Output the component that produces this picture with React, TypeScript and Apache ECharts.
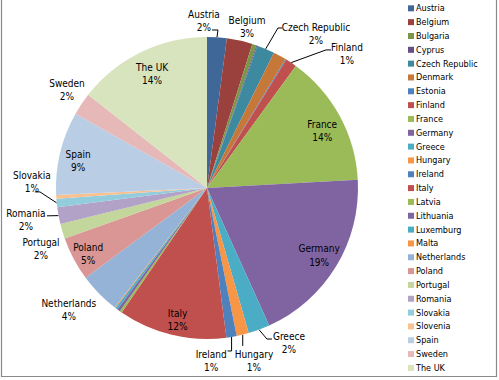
import React, { useEffect, useRef } from "react";
import * as echarts from "echarts";

const countries = [
  "Austria", "Belgium", "Bulgaria", "Cyprus", "Czech Republic", "Denmark", "Estonia",
  "Finland", "France", "Germany", "Greece", "Hungary", "Ireland", "Italy", "Latvia",
  "Lithuania", "Luxemburg", "Malta", "Netherlands", "Poland", "Portugal", "Romania",
  "Slovakia", "Slovenia", "Spain", "Sweden", "The UK",
];
const shares = [
  2.1, 2.75, 0.45, 0.1, 1.9, 1.4, 0.1,
  1.2, 14.1, 19.1, 2.3, 1.3, 1.1, 11.6, 0.25,
  0.3, 0.25, 0.1, 4.4, 4.7, 1.6, 1.8,
  0.9, 0.4, 8.9, 2.4, 14.4,
];
const colors = [
  "#3F6797", "#9A403D", "#7C9647", "#664F82", "#3C89A0", "#C67838", "#4F81BD",
  "#C0504D", "#9BBB59", "#8064A2", "#4BACC6", "#F79646", "#4F81BD", "#C0504D", "#9BBB59",
  "#8064A2", "#4BACC6", "#F79646", "#95B3D7", "#D99694", "#C3D69B", "#B3A2C7",
  "#93CDDD", "#FAC090", "#B9CDE5", "#E6B9B8", "#D7E4BD",
];
const labelled = [
  "Austria", "Belgium", "Czech Republic", "Finland", "France", "Germany", "Greece",
  "Hungary", "Ireland", "Italy", "Netherlands", "Poland", "Portugal", "Romania",
  "Slovakia", "Spain", "Sweden", "The UK",
];
const insideLabels = ["France", "Germany", "Italy", "Poland", "Spain", "The UK"];

// label nudges (px) from the default radial spot
const labelNudge: Record<string, [number, number]> = {
  Austria: [-14.5, 6.6], Belgium: [2.3, 8.9], "Czech Republic": [41.3, 6.3],
  Finland: [43, 10.4], Greece: [21.9, -8.3], Hungary: [5.8, 3.9], Ireland: [-24.1, 1.3],
  Netherlands: [-13.9, 0], Portugal: [0.7, 11], Romania: [-10, 0], Slovakia: [-1.9, -23.3],
  Sweden: [4.6, -1.2], France: [1, 5], Germany: [1, 0], Italy: [1, 5.6], Poland: [-4, 5],
  Spain: [-2.5, 3], "The UK": [2, 3],
};
// leader line routing relative to the label centre
const leaderLines: Record<string, any> = {
  Austria: { end: [8, 9], elbow: 6 },
  "Czech Republic": { end: [-34, -6], elbow: -4 },
  Finland: { end: [-16, -4], elbow: -5 },
  Greece: { end: [-17, -4], elbow: -5 },
  Hungary: { vertical: -9 },
  Ireland: { vertical: -4, hook: -4 },
  Romania: { end: [21, -4], elbow: 0 },
  Slovakia: { end: [3, 10], elbow: 5 },
};

const FONT = "'DejaVu Sans Condensed', 'DejaVu Sans', sans-serif";

export default function App() {
  const ref = useRef<HTMLDivElement>(null);
  useEffect(() => {
    const chart = echarts.init(ref.current!, null, { renderer: "svg" });
    const cx = 207, cy = 188, R = 151;
    const total = shares.reduce((a, b) => a + b, 0);
    const mids: number[] = [];
    let acc = 0;
    shares.forEach((v) => {
      const a0 = (acc / total) * 360;
      acc += v;
      const a1 = (acc / total) * 360;
      mids.push((a0 + a1) / 2);
    });
    const polar = (deg: number, d: number) => {
      const t = (deg * Math.PI) / 180;
      return [cx + d * Math.sin(t), cy - d * Math.cos(t)];
    };

    const data = countries.map((name, i) => ({
      name,
      value: shares[i],
      itemStyle: { color: colors[i] },
      label: { show: labelled.includes(name) },
      labelLine: { show: !!leaderLines[name] },
    }));

    chart.setOption({
      animation: false,
      backgroundColor: "#ffffff",
      legend: {
        orient: "vertical",
        left: 408,
        top: 1.4,
        padding: 0,
        itemGap: 0,
        itemWidth: 6,
        itemHeight: 6,
        icon: "rect",
        data: countries,
        textStyle: {
          fontFamily: FONT,
          fontSize: 9,
          lineHeight: 13.83,
          color: "#000",
          padding: [0, 0, 0, -3],
        },
      },
      graphic: [
        {
          type: "rect",
          shape: { x: 1.5, y: -1, width: 495, height: 377.5 },
          style: { fill: "none", stroke: "#8a8a8a", lineWidth: 1.2 },
          silent: true,
        },
      ],
      series: [
        {
          type: "pie",
          center: [cx, cy],
          radius: R,
          startAngle: 90,
          clockwise: true,
          avoidLabelOverlap: false,
          itemStyle: { borderWidth: 0 },
          emphasis: { disabled: true },
          label: {
            position: "outside",
            width: 140,
            overflow: "none",
            fontFamily: FONT,
            fontSize: 10,
            lineHeight: 13.5,
            color: "#000",
            align: "center",
            formatter: (p: any) => `${p.name}\n${Math.round(p.percent)}%`,
          },
          labelLine: {
            show: true,
            length: 5,
            length2: 5,
            lineStyle: { color: "#000", width: 1 },
          },
          labelLayout: (params: any) => {
            const i = params.dataIndex;
            const name = countries[i];
            if (!labelled.includes(name)) return {};
            const inside = insideLabels.includes(name);
            const [bx, by] = polar(mids[i], inside ? 130 : 174);
            const [nx, ny] = labelNudge[name] || [0, 0];
            const x = bx + nx, y = by + ny;
            const res: any = { x, y, align: "center", verticalAlign: "middle" };
            const ln = leaderLines[name];
            if (ln) {
              const s = polar(mids[i], R);
              let pts: number[][];
              if (ln.vertical !== undefined) {
                pts = [s, [s[0], y + ln.vertical - 6]];
                if (ln.hook) pts.push([s[0] + ln.hook, y + ln.vertical - 6]);
              } else {
                const e = [x + ln.end[0], y + ln.end[1]];
                pts = [s, [e[0] + ln.elbow, e[1]], e];
              }
              res.labelLinePoints = pts;
            }
            return res;
          },
          data,
        },
      ],
    });
    return () => chart.dispose();
  }, []);
  return (
    <div
      ref={ref}
      style={{ position: "fixed", left: 0, top: 0, width: 499, height: 380 }}
    />
  );
}
